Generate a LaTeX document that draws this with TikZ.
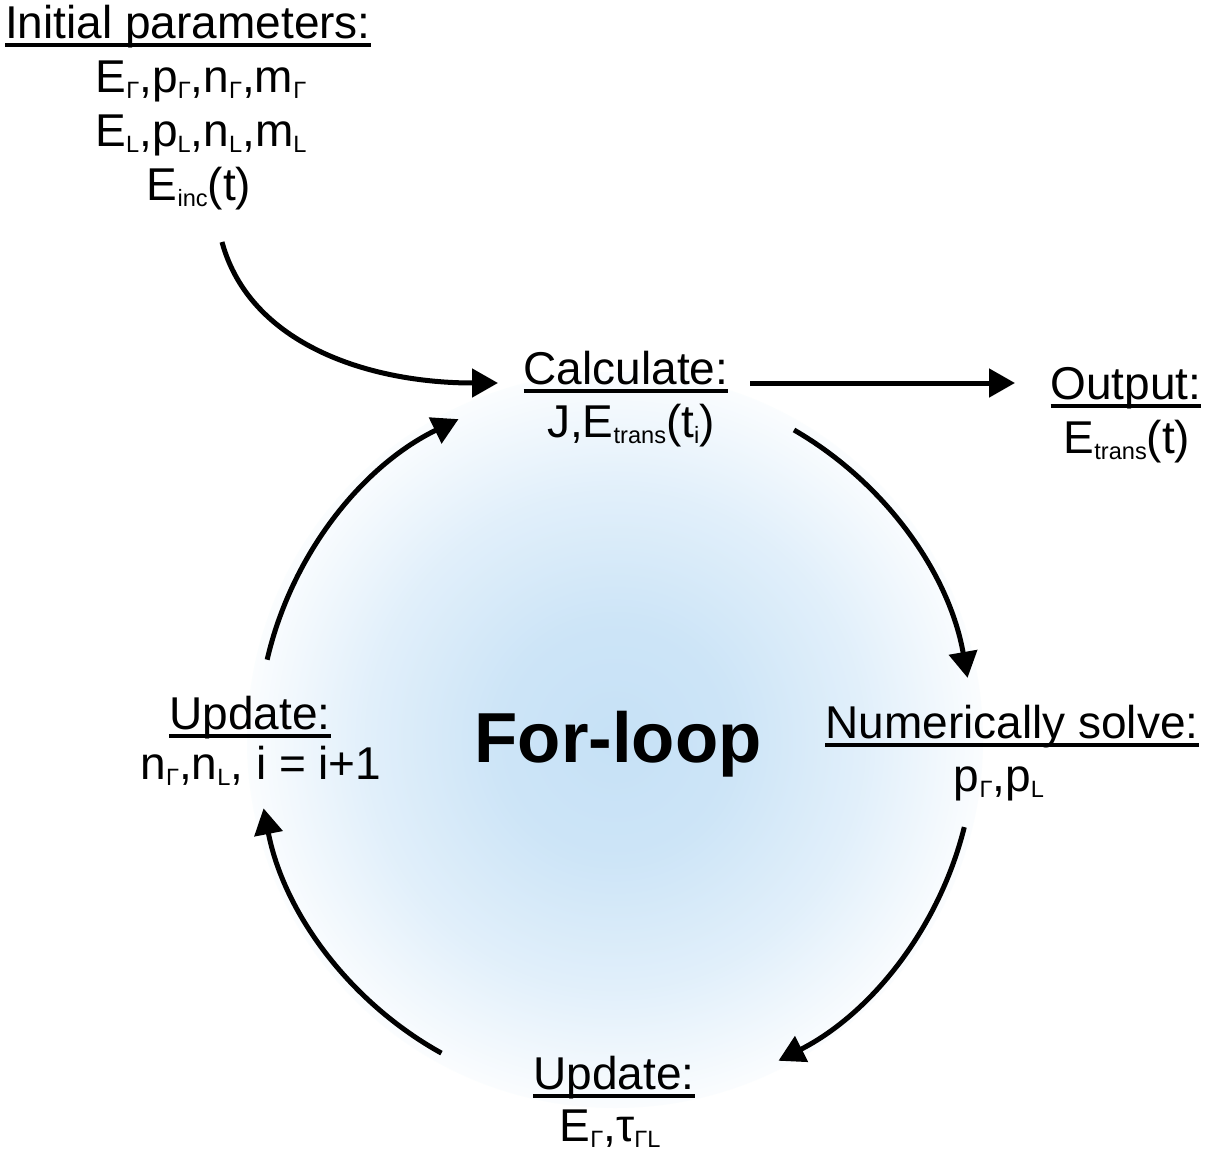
\documentclass[tikz,border=0pt]{standalone}
\usepackage{fontspec}
\setmainfont{Liberation Sans}
\usetikzlibrary{arrows.meta}
\definecolor{glow}{RGB}{198,225,246}
\pgfdeclareradialshading{loopglow}{\pgfpointorigin}{color(0bp)=(glow); color(8bp)=(glow!88!white); color(17bp)=(glow!52!white); color(25bp)=(glow!8!white); color(50bp)=(white)}
\newcommand\sbs[1]{\raisebox{-3pt}{\fontsize{11.8}{12}\selectfont #1}}
\newcommand\ulab[1]{\sbox0{#1}\rlap{\rule[-4.4pt]{\wd0}{1.7pt}}\usebox0}
\begin{document}
\begin{tikzpicture}[x=0.5pt,y=-0.5pt,
  lbl/.style={anchor=base, inner sep=0pt, font=\fontsize{23}{27}\selectfont},
  conn/.style={line width=2.5pt, -{Triangle[length=13pt,width=14pt]}}]
\fill[white] (0,0) rectangle (1217,1152);
\useasboundingbox (0,0) rectangle (1217,1152);
% glow circle
\coordinate (ctr) at (615,740);
\shade[shading=loopglow] (ctr) circle [radius=368];
% initial parameters
\node[lbl] (ip1) at (188,38) {\ulab{Initial parameters:}};
\node[lbl] (ip2) at (201,92) {E\sbs{Γ},p\sbs{Γ},n\sbs{Γ},m\sbs{Γ}};
\node[lbl] (ip3) at (201,146) {E\sbs{L},p\sbs{L},n\sbs{L},m\sbs{L}};
\node[lbl] (ip4) at (199,200) {E\sbs{inc}(t)};
% calculate
\node[lbl] (calc1) at (626,384) {\ulab{Calculate:}};
\node[lbl] (calc2) at (631,437) {J,E\sbs{trans}(t\sbs{i})};
% output
\node[lbl] (out1) at (1126,399) {\ulab{Output:}};
\node[lbl] (out2) at (1127,453) {E\sbs{trans}(t)};
% numerically solve
\node[lbl] (num1) at (1012,738) {\ulab{Numerically solve:}};
\node[lbl] (num2) at (999,791) {p\sbs{Γ},p\sbs{L}};
% update left
\node[lbl] (upl1) at (250,729) {\ulab{Update:}};
\node[lbl] (upl2) at (261,779) {n\sbs{Γ},n\sbs{L}, i = i+1};
% update bottom
\node[lbl] (upb1) at (614,1089) {\ulab{Update:}};
\node[lbl] (upb2) at (610,1141) {E\sbs{Γ},τ\sbs{ΓL}};
% for-loop
\node[anchor=base, inner sep=0pt, font=\fontsize{35.4}{40}\selectfont\bfseries] (loop) at (618,762) {For-loop};
% connectors
\coordinate (ipend) at (222,242);
\coordinate (calcin) at (498,383);
\draw[conn] (ipend) .. controls (250,345) and (370,383) .. (calcin);
\coordinate (calcout) at (750,383);
\coordinate (outin) at (1015,383);
\draw[conn] (calcout) -- (outin);
\coordinate (a1) at ([shift={(-60:358)}]ctr);
\coordinate (a2) at ([shift={(14:360)}]ctr);
\coordinate (a3) at ([shift={(119:358)}]ctr);
\coordinate (a4) at ([shift={(193:357)}]ctr);
\draw[conn] (a1) arc[start angle=-60, end angle=-10, radius=358];
\draw[conn] (a2) arc[start angle=14, end angle=63, radius=360];
\draw[conn] (a3) arc[start angle=119, end angle=169, radius=358];
\draw[conn] (a4) arc[start angle=193, end angle=244, radius=357];
\end{tikzpicture}
\end{document}
